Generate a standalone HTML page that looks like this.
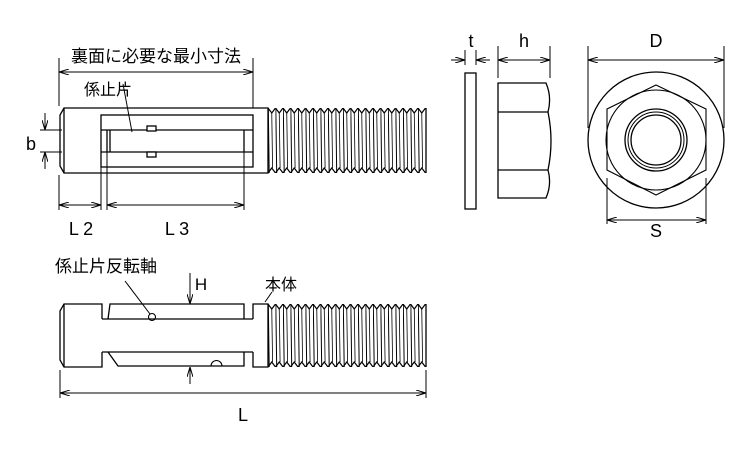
<!DOCTYPE html>
<html><head><meta charset="utf-8"><style>
html,body{margin:0;padding:0;background:#fff;}
svg{display:block;}
text{font-family:"Liberation Sans","Noto Sans CJK JP",sans-serif;fill:#000;}
</style></head><body>
<svg width="750" height="450" viewBox="0 0 750 450" xmlns="http://www.w3.org/2000/svg">
<defs>
<pattern id="t1" patternUnits="userSpaceOnUse" x="268" y="106" width="7.5" height="70">
<polyline points="0,2 3.75,7 7.5,2" fill="none" stroke="#000" stroke-width="1.2"/>
<polyline points="0,67 3.75,62 7.5,67" fill="none" stroke="#000" stroke-width="1.2"/>
<line x1="0.3" y1="2" x2="1.2" y2="67" stroke="#000" stroke-width="1"/>
<line x1="3.75" y1="7" x2="4.6" y2="62" stroke="#000" stroke-width="0.8"/>
</pattern>
<pattern id="t2" patternUnits="userSpaceOnUse" x="268" y="302" width="7.5" height="67">
<polyline points="0,2 3.75,7 7.5,2" fill="none" stroke="#000" stroke-width="1.2"/>
<polyline points="0,65 3.75,60 7.5,65" fill="none" stroke="#000" stroke-width="1.2"/>
<line x1="0.3" y1="2" x2="1.2" y2="65" stroke="#000" stroke-width="1"/>
<line x1="3.75" y1="7" x2="4.6" y2="60" stroke="#000" stroke-width="0.8"/>
</pattern>
<marker id="a" viewBox="0 0 10 6" refX="10" refY="3" markerWidth="10" markerHeight="6" markerUnits="userSpaceOnUse" orient="auto-start-reverse">
<path d="M0,0 L10,3 L0,6" fill="none" stroke="#000" stroke-width="1"/>
</marker>
</defs>
<g fill="none" stroke="#000" stroke-width="1.3">
<!-- top bolt -->
<path d="M268,108 H64 L60,115 V166 L64,173 H268 Z" fill="#fff"/>
<line x1="64" y1="108" x2="64" y2="173"/>
<rect x="268" y="108" width="158" height="65" fill="url(#t1)" stroke="none"/>
<line x1="426" y1="108" x2="426" y2="173"/>
<rect x="101" y="115" width="152" height="52"/>
<line x1="101" y1="130" x2="253" y2="130"/>
<line x1="101" y1="152" x2="253" y2="152"/>
<line x1="107" y1="130" x2="107" y2="152"/>
<line x1="110" y1="130" x2="110" y2="152"/>
<line x1="244" y1="130" x2="244" y2="152"/>
<rect x="147" y="126" width="9" height="5" fill="#fff"/>
<rect x="147" y="152" width="9" height="5" fill="#fff"/>
<line x1="123" y1="84" x2="132" y2="132" stroke-width="1"/>
<!-- dims top -->
<g stroke-width="1">
<line x1="59" y1="58" x2="59" y2="106"/>
<line x1="253" y1="58" x2="253" y2="108"/>
<line x1="59" y1="72" x2="253" y2="72" marker-start="url(#a)" marker-end="url(#a)"/>
<line x1="40" y1="130" x2="62" y2="130"/>
<line x1="40" y1="152" x2="62" y2="152"/>
<line x1="45" y1="113" x2="45" y2="130" marker-end="url(#a)"/>
<line x1="45" y1="169" x2="45" y2="152" marker-end="url(#a)"/>
<line x1="59" y1="175" x2="59" y2="210"/>
<line x1="101" y1="167" x2="101" y2="210"/>
<line x1="107" y1="152" x2="107" y2="210"/>
<line x1="244" y1="152" x2="244" y2="210"/>
<line x1="59" y1="205" x2="101" y2="205" marker-start="url(#a)" marker-end="url(#a)"/>
<line x1="107" y1="205" x2="244" y2="205" marker-start="url(#a)" marker-end="url(#a)"/>
</g>
<!-- bottom bolt -->
<path d="M102,319 V304 H64 L60,311 V360 L64,367 H102 V352"/>
<line x1="64" y1="304" x2="64" y2="367"/>
<line x1="102" y1="319" x2="253" y2="319"/>
<line x1="102" y1="352" x2="253" y2="352"/>
<path d="M108,319 L110,304 H244 V319"/>
<path d="M108,352 L118,366 H244 V352"/>
<path d="M253,319 V304 H268 V367 H253 V352"/>
<rect x="268" y="304" width="158" height="63" fill="url(#t2)" stroke="none"/>
<line x1="426" y1="304" x2="426" y2="367"/>
<circle cx="152" cy="317" r="3.5" stroke-width="1.1"/>
<path d="M211,366 A5.5,5.5 0 0 1 222,366" stroke-width="1.1"/>
<g stroke-width="1">
<line x1="125" y1="281" x2="150" y2="314"/>
<line x1="272" y1="292" x2="265" y2="302"/>
<line x1="190" y1="273" x2="190" y2="304" marker-end="url(#a)"/>
<line x1="190" y1="384" x2="190" y2="367" marker-end="url(#a)"/>
<line x1="60" y1="370" x2="60" y2="398"/>
<line x1="426" y1="370" x2="426" y2="398"/>
<line x1="60" y1="393" x2="426" y2="393" marker-start="url(#a)" marker-end="url(#a)"/>
</g>
<!-- washer -->
<rect x="465" y="73" width="11" height="136"/>
<g stroke-width="1">
<line x1="465" y1="50" x2="465" y2="65"/>
<line x1="476" y1="50" x2="476" y2="65"/>
<line x1="451" y1="60" x2="465" y2="60" marker-end="url(#a)"/>
<line x1="490" y1="60" x2="476" y2="60" marker-end="url(#a)"/>
<line x1="498" y1="46" x2="498" y2="78"/>
<line x1="550" y1="46" x2="550" y2="78"/>
<line x1="498" y1="60" x2="550" y2="60" marker-start="url(#a)" marker-end="url(#a)"/>
</g>
<!-- nut side -->
<path d="M498,83 H546 Q552,97 548,112 Q554,141 548,170 Q552,184 546,198 H498 Z"/>
<line x1="498" y1="112" x2="548" y2="112"/>
<line x1="498" y1="170" x2="548" y2="170"/>
<!-- nut front -->
<circle cx="656" cy="140" r="68"/>
<polygon points="656,85 706,109 706,170 656,195 607,170 607,109" stroke-width="1.1"/>
<circle cx="656" cy="140" r="50" stroke-width="1.1"/>
<circle cx="656" cy="140" r="31"/>
<circle cx="656" cy="140" r="28" stroke-width="1"/>
<circle cx="656" cy="140" r="25" stroke-width="1.3"/>
<g stroke-width="1">
<line x1="588" y1="46" x2="588" y2="128"/>
<line x1="724" y1="46" x2="724" y2="128"/>
<line x1="588" y1="60" x2="724" y2="60" marker-start="url(#a)" marker-end="url(#a)"/>
<line x1="607" y1="178" x2="607" y2="224"/>
<line x1="706" y1="178" x2="706" y2="224"/>
<line x1="607" y1="220" x2="706" y2="220" marker-start="url(#a)" marker-end="url(#a)"/>
</g>
</g>
<g>
<text x="156" y="62" text-anchor="middle" font-size="17">裏面に必要な最小寸法</text>
<text x="108" y="95" text-anchor="middle" font-size="16">係止片</text>
<text x="31" y="150" text-anchor="middle" font-size="18">b</text>
<text x="81" y="235" text-anchor="middle" font-size="18">L 2</text>
<text x="177" y="235" text-anchor="middle" font-size="18">L 3</text>
<text x="106" y="272" text-anchor="middle" font-size="17">係止片反転軸</text>
<text x="201" y="290" text-anchor="middle" font-size="17">H</text>
<text x="281" y="290" text-anchor="middle" font-size="16">本体</text>
<text x="243" y="421" text-anchor="middle" font-size="18">L</text>
<text x="471" y="47" text-anchor="middle" font-size="18">t</text>
<text x="524" y="47" text-anchor="middle" font-size="18">h</text>
<text x="656" y="47" text-anchor="middle" font-size="18">D</text>
<text x="656" y="237" text-anchor="middle" font-size="18">S</text>
</g>
</svg>
</body></html>
